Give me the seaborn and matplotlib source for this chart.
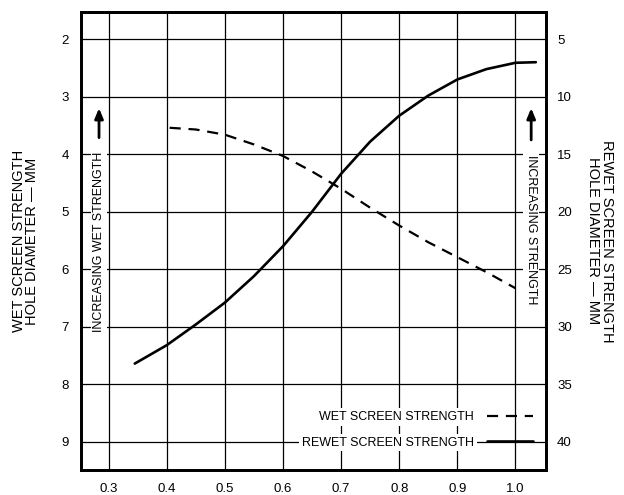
import pandas as pd
import seaborn as sns
import matplotlib.pyplot as plt

# wet screen strength, hole diameter in mm (left axis)
wet_x = [0.405, 0.45, 0.50, 0.55, 0.60, 0.65, 0.70, 0.75, 0.80, 0.85, 0.90, 0.95, 1.00]
wet_mm = [3.54, 3.57, 3.66, 3.83, 4.03, 4.30, 4.60, 4.93, 5.24, 5.53, 5.79, 6.05, 6.33]

# rewet screen strength, hole diameter in mm (right axis)
rewet_x = [0.345, 0.40, 0.45, 0.50, 0.55, 0.60, 0.65, 0.70, 0.75, 0.80, 0.85, 0.90, 0.95, 1.00, 1.035]
rewet_mm = [33.2, 31.6, 29.8, 27.9, 25.6, 23.0, 20.0, 16.7, 13.9, 11.65, 9.9, 8.5, 7.6, 7.05, 7.0]

x_ticks = [0.3, 0.4, 0.5, 0.6, 0.7, 0.8, 0.9, 1.0]
left_ticks = [2, 3, 4, 5, 6, 7, 8, 9]
right_ticks = [5, 10, 15, 20, 25, 30, 35, 40]

sns.set_style("white")
plt.rcParams['font.family'] = ['Liberation Sans', 'DejaVu Sans']
plt.rcParams['text.color'] = 'black'
plt.rcParams['xtick.color'] = 'black'
plt.rcParams['ytick.color'] = 'black'
plt.rcParams['axes.labelcolor'] = 'black'

wet = pd.DataFrame({'x': wet_x, 'mm': wet_mm})
rewet = pd.DataFrame({'x': rewet_x, 'mm': rewet_mm})

fig = plt.figure(figsize=(6.24, 4.95), dpi=100)
ax = fig.add_axes([0.130, 0.0505, 0.745, 0.9255])
ax2 = ax.twinx()

sns.lineplot(data=wet, x='x', y='mm', ax=ax, color='black', lw=1.6,
             linestyle=(0, (5, 3.5)), label='WET SCREEN STRENGTH', legend=False)
sns.lineplot(data=rewet, x='x', y='mm', ax=ax2, color='black', lw=1.9,
             label='REWET SCREEN STRENGTH', legend=False)

# limits: right = 5 * left - 5 so the gridlines line up
ax.set_xlim(0.2527, 1.0525)
ax.set_ylim(9.49, 1.525)
ax2.set_ylim(5 * 9.49 - 5, 5 * 1.525 - 5)

ax.set_xticks(x_ticks)
ax.set_xticklabels([f"{t:.1f}" for t in x_ticks])
ax.set_yticks(left_ticks)
ax2.set_yticks(right_ticks)
ax.grid(True, color='black', lw=0.9)
ax.tick_params(axis='both', length=0, pad=9, labelsize=9.5)
ax2.tick_params(axis='y', length=0, pad=8, labelsize=9.5)

ax.set_xlabel('')
ax.set_ylabel('WET SCREEN STRENGTH\nHOLE DIAMETER — MM', fontsize=10.5,
              labelpad=16, linespacing=0.95)
ax2.set_ylabel('REWET SCREEN STRENGTH\nHOLE DIAMETER — MM', fontsize=10.5,
               rotation=-90, labelpad=30, linespacing=0.95)

for a in (ax, ax2):
    for s in a.spines.values():
        s.set_linewidth(2)
        s.set_color('black')

# inner notes, white behind so the gridlines break around them
note_box = dict(facecolor='white', edgecolor='none', pad=1.5)
ax.text(0.2835, 5.52, 'INCREASING WET STRENGTH', rotation=90, fontsize=9,
        ha='center', va='center', bbox=note_box)
ax.annotate('', xy=(0.2835, 3.15), xytext=(0.2835, 3.76),
            arrowprops=dict(arrowstyle='-|>,head_width=0.25,head_length=0.6',
                            color='black', lw=2))
ax.text(1.027, 5.32, 'INCREASING STRENGTH', rotation=-90, fontsize=9,
        ha='center', va='center', bbox=note_box)
ax.annotate('', xy=(1.027, 3.15), xytext=(1.027, 3.8),
            arrowprops=dict(arrowstyle='-|>,head_width=0.25,head_length=0.6',
                            color='black', lw=2))

handles = [h for h in ax.get_lines() if h.get_label().startswith('WET')] + \
          [h for h in ax2.get_lines() if h.get_label().startswith('REWET')]
leg = ax2.legend(handles, [h.get_label() for h in handles], loc='lower right',
                 bbox_to_anchor=(0.985, 0.033), frameon=False, markerfirst=False,
                 fontsize=9, handlelength=3.7, handletextpad=1.0,
                 labelspacing=1.1, borderpad=0)
for t in leg.get_texts():
    t.set_bbox(dict(facecolor='white', edgecolor='none', pad=2))

fig.savefig('out.png', dpi=100)
